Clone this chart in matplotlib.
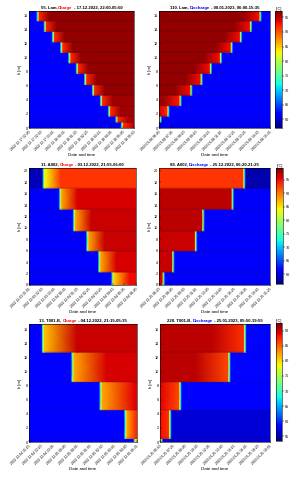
import matplotlib as mpl
mpl.use('Agg')
import matplotlib.pyplot as plt
import numpy as np
import pandas as pd
from matplotlib.offsetbox import TextArea, HPacker, AnchoredOffsetbox
from matplotlib.ticker import MultipleLocator

plt.rcParams['font.family'] = ['Liberation Sans', 'DejaVu Sans']

# ---------------- 55. Lam. charge ----------------
p1_title = ('55. Lam, ', 'Charge', ' - 17.12.2022, 22:00-05:50')
p1_start, p1_end = '2022.12.17 22:00', '2022.12.18 05:50'
p1_ticks = ['2022.12.17 22:00', '2022.12.17 22:50', '2022.12.17 23:45', '2022.12.18 00:35',
            '2022.12.18 01:30', '2022.12.18 02:20', '2022.12.18 03:15', '2022.12.18 04:05',
            '2022.12.18 05:00', '2022.12.18 05:50']
p1_edges = [0, 0.86, 1.7, 3.2, 4.7, 6.2, 7.8, 9.3, 10.8, 12.3, 13.8, 15.3, 16.7]
p1_front = [415, 390, 357, 321, 285, 250, 213, 179, 143, 106, 69, 37]  # min after start
p1_cold = [61, 62, 62, 62, 62, 62, 62, 62, 62, 62, 62, 62]
p1_near = [92, 92, 92, 92, 92, 92, 92, 92, 92, 92, 92, 92]
p1_far = [95, 95.5, 96, 96, 96.5, 96.5, 96.5, 96.5, 96.5, 96.5, 96.5, 96.5]

# ---------------- 110. Lam. discharge ----------------
p2_title = ('110. Lam, ', 'Discharge', ' - 08.01.2023, 06:00-15:35')
p2_start, p2_end = '2023.01.08 06:00', '2023.01.08 15:35'
p2_ticks = ['2023.01.08 06:00', '2023.01.08 07:05', '2023.01.08 08:10', '2023.01.08 09:10',
            '2023.01.08 10:15', '2023.01.08 11:20', '2023.01.08 12:25', '2023.01.08 13:25',
            '2023.01.08 14:30', '2023.01.08 15:35']
p2_edges = p1_edges
p2_front = [np.nan, 12, 52, 115, 171, 224, 272, 324, 380, 428, 480, 529]
p2_cold = [61, 62, 62, 62, 62, 62, 62, 62, 62, 62, 62, 62]
p2_near = [92, 92, 92, 92.5, 93, 93, 93, 93, 93, 93, 93, 93]
p2_far = [92, 93, 94, 96, 96.5, 96.5, 96.5, 96.5, 96.5, 96.5, 96.5, 96.5]

# ---------------- 11. A002 charge ----------------
p3_title = ('11. A002, ', 'Charge', ' - 03.12.2022, 21:55-06:00')
p3_start, p3_end = '2022.12.03 21:55', '2022.12.04 06:00'
p3_ticks = ['2022.12.03 21:55', '2022.12.03 22:50', '2022.12.03 23:45', '2022.12.04 00:35',
            '2022.12.04 01:30', '2022.12.04 02:25', '2022.12.04 03:20', '2022.12.04 04:15',
            '2022.12.04 05:05', '2022.12.04 06:00']
p3_edges = [0, 2.3, 6.0, 9.5, 13.3, 17.0, 20.5]
p3_front = [377, 317, 263, 203, 140, 65]
p3_cold = [61, 61, 61, 61, 61, 58.5]
p3_near = [86, 88, 88, 88, 88, 84]
p3_far = [95, 96, 96.5, 96.5, 96, 93]

# ---------------- 88. A002 discharge ----------------
p4_title = ('88. A002, ', 'Discharge', ' - 25.12.2022, 06:20-21:25')
p4_start, p4_end = '2022.12.25 06:20', '2022.12.25 21:25'
p4_ticks = ['2022.12.25 06:20', '2022.12.25 08:00', '2022.12.25 09:40', '2022.12.25 11:20',
            '2022.12.25 13:00', '2022.12.25 14:40', '2022.12.25 16:25', '2022.12.25 18:05',
            '2022.12.25 19:45', '2022.12.25 21:25']
p4_edges = p3_edges
p4_front = [43, 122, 307, 367, 606, 701]
p4_cold = [61, 61, 61, 61, 61, 58]
p4_near = [96, 96.5, 96, 96.5, 97, 93]
p4_far = [96.5, 96.5, 96.5, 97, 97, 93]

# ---------------- 13. T001-B charge ----------------
p5_title = ('13. T001-B, ', 'Charge', ' - 04.12.2022, 21:15-05:35')
p5_start, p5_end = '2022.12.04 21:15', '2022.12.05 05:35'
p5_ticks = ['2022.12.04 21:15', '2022.12.04 22:10', '2022.12.04 23:05', '2022.12.05 00:00',
            '2022.12.05 00:55', '2022.12.05 01:55', '2022.12.05 02:50', '2022.12.05 03:45',
            '2022.12.05 04:40', '2022.12.05 05:35']
p5_edges = [0, 0.5, 4.6, 8.6, 12.8, 16.8]
p5_front = [488, 445, 330, 200, 63]
p5_cold = [58, 58, 58, 58, 58]
p5_near = [80, 82, 82, 82, 81]
p5_far = [82, 88, 89, 89.5, 90]

# ---------------- 228. T001-B discharge ----------------
p6_title = ('228. T001-B, ', 'Discharge', ' - 25.01.2023, 05:50-19:55')
p6_start, p6_end = '2023.01.25 05:50', '2023.01.25 19:55'
p6_ticks = ['2023.01.25 05:50', '2023.01.25 07:25', '2023.01.25 09:00', '2023.01.25 10:30',
            '2023.01.25 12:05', '2023.01.25 13:40', '2023.01.25 15:15', '2023.01.25 16:45',
            '2023.01.25 18:20', '2023.01.25 19:55']
p6_edges = p5_edges
p6_front = [17, 83, 161, 538, 659]
p6_cold = [56.5, 56.5, 58, 58.5, 58.5]
p6_near = [84, 87, 86, 86, 87]
p6_far = [84, 88.5, 89, 90.5, 90.5]

# colour limits per row of panels
lims_top = (57.0, 97.2)
lims_mid = (56.3, 99.3)
lims_bot = (53.5, 92.5)

FMT = '%Y.%m.%d %H:%M'
FS = 2.7
cmap = plt.get_cmap('jet')


def add_title(ax, parts, word_color):
    props = dict(fontsize=3.1, fontweight='bold')
    kids = [TextArea(parts[0], textprops=dict(color='black', **props)),
            TextArea(parts[1], textprops=dict(color=word_color, **props)),
            TextArea(parts[2], textprops=dict(color='black', **props))]
    pack = HPacker(children=kids, align='baseline', pad=0, sep=0)
    box = AnchoredOffsetbox(loc='lower center', child=pack, pad=0, borderpad=0.1,
                            frameon=False, bbox_to_anchor=(0.5, 1.0),
                            bbox_transform=ax.transAxes)
    ax.add_artist(box)


def draw(ax, title, start, end, ticks, edges, front, cold, near, far,
         mode, lims, width, ramp, mid):
    t0 = pd.to_datetime(start, format=FMT)
    span = (pd.to_datetime(end, format=FMT) - t0).total_seconds() / 60
    norm = mpl.colors.Normalize(*lims)
    w = width
    for k in range(len(front)):
        y0, y1 = edges[k], edges[k + 1]
        f = front[k]
        if np.isnan(f):
            xs = [0, span]
            vs = [cold[k], cold[k]]
        elif mode == 'charge':
            xs = [0, f - w, f, f + w, f + 2 * w, f + 2 * w + ramp, span]
            vs = [cold[k], cold[k], mid[0], mid[1], near[k], far[k], far[k]]
        else:
            xs = [0, f - 2 * w - ramp, f - 2 * w, f - w, f, f + w, span]
            vs = [far[k], far[k], near[k], mid[1], mid[0], cold[k], cold[k]]
        xs = np.clip(xs, 0, span)
        X = np.vstack([xs, xs])
        Y = np.vstack([np.full(len(xs), y0), np.full(len(xs), y1)])
        C = np.vstack([vs, vs])
        ax.pcolormesh(X, Y, C, shading='gouraud', cmap=cmap, norm=norm)
    ax.hlines(edges[1:-1], 0, span, color='#101040', lw=0.3, alpha=0.5)
    ax.set_xlim(0, span)
    ax.set_ylim(0, edges[-1])
    pos = [(pd.to_datetime(s, format=FMT) - t0).total_seconds() / 60 for s in ticks]
    ax.set_xticks(pos)
    ax.set_xticklabels(ticks, rotation=45, ha='right', va='top',
                       rotation_mode='anchor', fontsize=2.4)
    ax.yaxis.set_major_locator(MultipleLocator(2))
    ax.tick_params(axis='y', labelsize=FS)
    ax.tick_params(length=1.2, width=0.3, pad=1, direction='in')
    ax.tick_params(axis='x', pad=1.5)
    for s in ax.spines.values():
        s.set_linewidth(0.4)
    ax.set_xlabel('Date and time', fontsize=3.2, labelpad=1)
    ax.set_ylabel('h [m]', fontsize=3.0, labelpad=1)
    add_title(ax, title, 'red' if mode == 'charge' else 'blue')
    return norm


def colorbar(fig, rect, norm):
    cax = fig.add_axes(rect)
    cb = fig.colorbar(mpl.cm.ScalarMappable(norm=norm, cmap=cmap), cax=cax)
    cb.locator = MultipleLocator(5)
    cb.update_ticks()
    cb.outline.set_linewidth(0.4)
    cax.tick_params(labelsize=FS, length=1.2, width=0.3, pad=1)
    cax.set_title('[°C]', fontsize=FS, pad=1)


W, H = 306, 480


def rect(l, r, t, b):
    return [l / W, 1 - b / H, (r - l) / W, (b - t) / H]


fig = plt.figure(figsize=(3.06, 4.8), dpi=100)

ax1 = fig.add_axes(rect(29, 134, 11, 128))
ax2 = fig.add_axes(rect(159, 270, 11, 128))
ax3 = fig.add_axes(rect(29, 136, 168, 285))
ax4 = fig.add_axes(rect(159, 270, 168, 285))
ax5 = fig.add_axes(rect(29, 137, 324, 442))
ax6 = fig.add_axes(rect(160, 270, 324, 442))

draw(ax1, p1_title, p1_start, p1_end, p1_ticks, p1_edges, p1_front, p1_cold, p1_near, p1_far,
     'charge', lims_top, 4.5, 45, (70, 81))
n2 = draw(ax2, p2_title, p2_start, p2_end, p2_ticks, p2_edges, p2_front, p2_cold, p2_near, p2_far,
          'discharge', lims_top, 5, 80, (70, 81))
draw(ax3, p3_title, p3_start, p3_end, p3_ticks, p3_edges, p3_front, p3_cold, p3_near, p3_far,
     'charge', lims_mid, 4.5, 70, (70, 82))
n4 = draw(ax4, p4_title, p4_start, p4_end, p4_ticks, p4_edges, p4_front, p4_cold, p4_near, p4_far,
          'discharge', lims_mid, 8, 30, (70, 82))
draw(ax5, p5_title, p5_start, p5_end, p5_ticks, p5_edges, p5_front, p5_cold, p5_near, p5_far,
     'charge', lims_bot, 4.6, 150, (67, 77))
n6 = draw(ax6, p6_title, p6_start, p6_end, p6_ticks, p6_edges, p6_front, p6_cold, p6_near, p6_far,
          'discharge', lims_bot, 7.5, 250, (67, 77))

colorbar(fig, rect(275, 282, 11, 128), n2)
colorbar(fig, rect(276, 283, 168, 284), n4)
colorbar(fig, rect(276, 282, 323, 441), n6)

fig.savefig('out.png', dpi=100)
